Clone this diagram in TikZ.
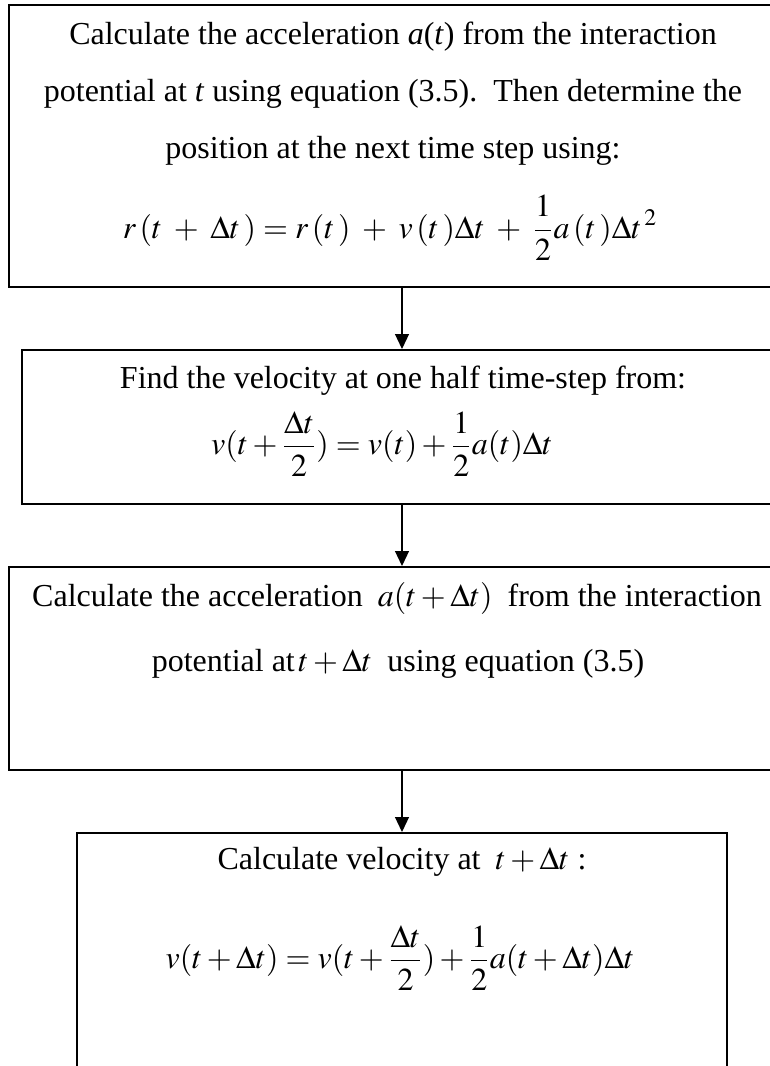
\documentclass[tikz,border=0pt]{standalone}
\usepackage{mathptmx}
\usepackage[no-math]{fontspec}
\setmainfont{Liberation Serif}
\usetikzlibrary{arrows.meta,fit}
\begin{document}
\begin{tikzpicture}[x=0.5pt,y=-0.5pt,
  box/.style={draw,line width=1pt,rectangle,inner sep=0pt},
  txt/.style={font=\fontsize{16}{18}\selectfont,inner sep=0pt},
  conn/.style={line width=0.6pt,-{Triangle[length=7.5pt,width=7pt]}}]
\useasboundingbox (0,0) rectangle (770,1066);
\clip (0,0) rectangle (770,1066);
% boxes
\node[box,fit={(9,5) (900,287)}] (b1) {};
\node[box,fit={(22,350) (900,504)}] (b2) {};
\node[box,fit={(9,567) (900,770)}] (b3) {};
\node[box,fit={(77,833) (727,1100)}] (b4) {};
% box 1 text
\node[txt] (t1a) at (393,37) {Calculate the acceleration \textit{a}(\textit{t}) from the interaction};
\node[txt] (t1b) at (393,94) {potential at \textit{t} using equation (3.5).\ \ Then determine the};
\node[txt] (t1c) at (393,151) {position at the next time step using:};
\node[txt] (t1d) at (390,228) {$r\,(t\;+\;\Delta t\,) = r\,(t\,) \;+\; v\,(t\,)\Delta t \;+\; \displaystyle\frac{1}{2}a\,(t\,)\Delta t^{\,2}$};
% box 2 text
\node[txt] (t2a) at (403,381) {Find the velocity at one half time-step from:};
\node[txt] (t2b) at (382,444) {$v(t+\displaystyle\frac{\Delta t}{2}) = v(t) + \frac{1}{2}a(t)\Delta t$};
% box 3 text
\node[txt] (t3a) at (397,598) {Calculate the acceleration $\;a(t+\Delta t)\;$ from the interaction};
\node[txt] (t3b) at (398,664) {potential at$\,t+\Delta t\;$ using equation (3.5)};
% box 4 text
\node[txt] (t4a) at (402,862) {Calculate velocity at $\;t+\Delta t$ :};
\node[txt] (t4b) at (400,958) {$v(t+\Delta t) = v(t+\displaystyle\frac{\Delta t}{2}) + \frac{1}{2}a(t+\Delta t)\Delta t$};
% connectors
\draw[conn] (b1.south -| b4.north) -- (b2.north -| b4.north);
\draw[conn] (b2.south -| b4.north) -- (b3.north -| b4.north);
\draw[conn] (b3.south -| b4.north) -- (b4.north);
\end{tikzpicture}
\end{document}
